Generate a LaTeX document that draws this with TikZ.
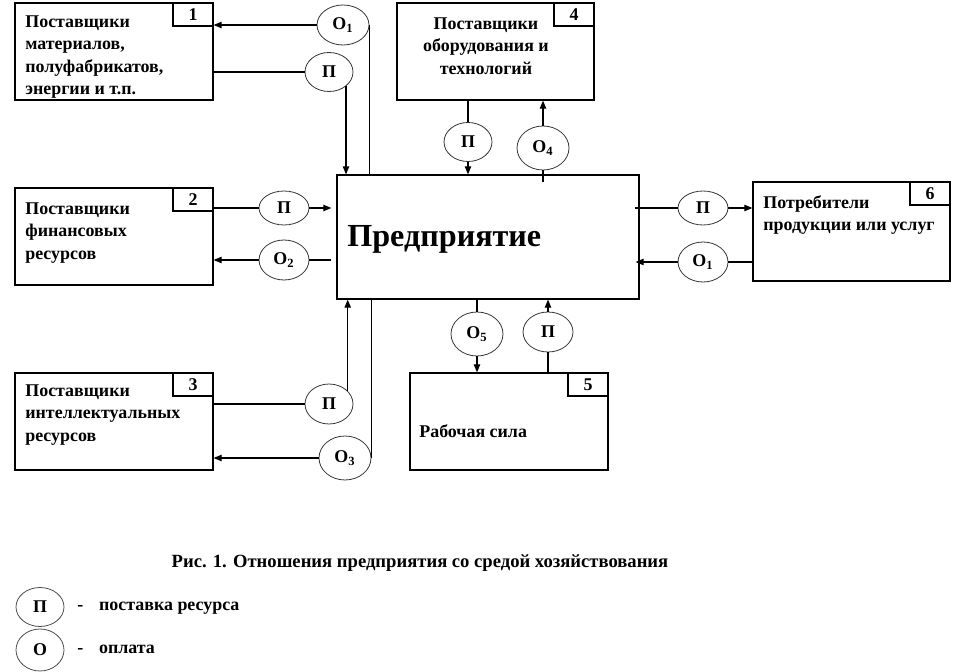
\documentclass[tikz,border=0pt]{standalone}
\usepackage{fontspec}
\setmainfont{LiberationSerif}[Extension=.ttf, UprightFont=*-Regular, BoldFont=*-Bold]
\usetikzlibrary{arrows.meta,calc,shapes.geometric}

\tikzset{
  supplier/.style={draw, line width=0.75pt, minimum width=3.96cm, minimum height=1.94cm, inner sep=0pt},
  numbox/.style={draw, line width=0.75pt, minimum width=0.8cm, minimum height=0.46cm, inner sep=0pt,
    anchor=north east, font=\bfseries\fontsize{10.2pt}{12pt}\selectfont},
  boxtext/.style={anchor=north west, inner sep=0pt, align=left,
    font=\bfseries\fontsize{10.2pt}{12.8pt}\selectfont},
  flow/.style={ellipse, draw=black!80, line width=0.45pt, inner sep=0pt,
    minimum width=0.96cm, minimum height=0.78cm, font=\bfseries\fontsize{10.2pt}{12pt}\selectfont},
  link/.style={line width=0.6pt},
  feed/.style={line width=0.6pt, -{Triangle[length=4.5pt,width=3.6pt]}}
}

\begin{document}
\begin{tikzpicture}[x=0.02cm, y=-0.02cm]
    \useasboundingbox (0,0) rectangle (953,672);

    % enterprise
    \node[draw, line width=0.75pt, minimum width=6.04cm, minimum height=2.48cm] (firm) at (488,237) {};
    \node[anchor=base west, inner sep=0pt, font=\bfseries\fontsize{18.3pt}{22pt}\selectfont] (firmtext) at (347,247) {Предприятие};

    % suppliers and consumers
    \node[supplier] (sup1) at (114,51.5) {};
    \node[numbox] (num1) at (sup1.north east) {1};
    \node[boxtext] (txt1) at (25,15) {Поставщики\\материалов,\\полуфабрикатов,\\энергии и т.п.};

    \node[supplier] (sup2) at (114,236.5) {};
    \node[numbox] (num2) at (sup2.north east) {2};
    \node[boxtext] (txt2) at (25,202) {Поставщики\\финансовых\\ресурсов};

    \node[supplier] (sup3) at (114,421.5) {};
    \node[numbox] (num3) at (sup3.north east) {3};
    \node[boxtext] (txt3) at (25,384) {Поставщики\\интеллектуальных\\ресурсов};

    \node[supplier, minimum width=3.94cm] (sup4) at (495.5,51.5) {};
    \node[numbox] (num4) at (sup4.north east) {4};
    \node[boxtext, anchor=north, align=center] (txt4) at (486,17) {Поставщики\\оборудования и\\технологий};

    \node[supplier] (labour) at (509,421.5) {};
    \node[numbox] (num5) at (labour.north east) {5};
    \node[boxtext] (txt5) at (419,424) {Рабочая сила};

    \node[supplier, minimum width=3.94cm, minimum height=1.98cm] (buyers) at (851.5,231.5) {};
    \node[numbox] (num6) at (buyers.north east) {6};
    \node[boxtext] (txt6) at (763,195) {Потребители\\продукции или услуг};

    % flows
    \node[flow, minimum width=1.04cm, minimum height=0.8cm] (pay1) at (343,25) {О\textsubscript{1}};
    \node[flow] (res1) at (329,72) {П};
    \node[flow, minimum width=1cm, minimum height=0.68cm] (res2) at (284,208) {П};
    \node[flow, minimum width=1cm, minimum height=0.8cm] (pay2) at (284,260) {О\textsubscript{2}};
    \node[flow, minimum height=0.8cm] (res3) at (329,404) {П};
    \node[flow, minimum width=1.04cm, minimum height=0.88cm] (pay3) at (345,458) {О\textsubscript{3}};
    \node[flow] (res4) at (468,142) {П};
    \node[flow, minimum width=1.04cm, minimum height=0.88cm] (pay4) at (543,148) {О\textsubscript{4}};
    \node[flow, minimum width=1.04cm, minimum height=0.88cm] (pay5) at (477,334) {О\textsubscript{5}};
    \node[flow, minimum width=1cm, minimum height=0.8cm] (res5) at (548,332) {П};
    \node[flow, minimum width=1cm, minimum height=0.68cm] (res6) at (703,208) {П};
    \node[flow, minimum width=1cm, minimum height=0.8cm] (pay6) at (703,262) {О\textsubscript{1}};

    % connectors
    \draw[feed] (pay1.west) -- (pay1.west -| sup1.east);
    \draw[link] (pay1.east) -- (pay1.east |- firm.north);
    \draw[link] (res1.west -| sup1.east) -- (res1.west);
    \draw[feed] (res1.-40) -- (res1.-40 |- firm.north);

    \draw[link] (res2.west -| sup2.east) -- (res2.west);
    \draw[feed] (res2.east) -- ($(res2.east -| firm.west)+(-5,0)$);
    \draw[link] ($(pay2.east -| firm.west)+(-5,0)$) -- (pay2.east);
    \draw[feed] (pay2.west) -- (pay2.west -| sup2.east);

    \draw[link] (res3.west -| sup3.east) -- (res3.west);
    \draw[feed] (res3.35) -- (res3.35 |- firm.south);
    \draw[feed] (pay3.west) -- (pay3.west -| sup3.east);
    \draw[link] (pay3.east) -- (pay3.east |- firm.south);

    \draw[link] (res4.north |- sup4.south) -- (res4.north);
    \draw[feed] (res4.south) -- (res4.south |- firm.north);
    \draw[feed] (pay4.north) -- (pay4.north |- sup4.south);
    \draw[link] (pay4.south) -- ($(pay4.south |- firm.north)+(0,8)$);

    \draw[link] (pay5.north |- firm.south) -- (pay5.north);
    \draw[feed] (pay5.south) -- (pay5.south |- labour.north);
    \draw[link] (res5.south |- labour.north) -- (res5.south);
    \draw[feed] (res5.north) -- (res5.north |- firm.south);

    \draw[link] ($(res6.west -| firm.east)+(-5,0)$) -- (res6.west);
    \draw[feed] (res6.east) -- (res6.east -| buyers.west);
    \draw[link] (pay6.east -| buyers.west) -- (pay6.east);
    \draw[feed] (pay6.west) -- ($(pay6.west -| firm.east)+(-4,0)$);

    % caption and legend
    \node[anchor=base, inner sep=0pt, font=\bfseries\fontsize{10.6pt}{12pt}\selectfont] (caption) at (420,567)
        {Рис. 1. Отношения предприятия со средой хозяйствования};
    \node[flow, draw=black!70] (keyres) at (40,607) {П};
    \node[flow, draw=black!70, minimum height=0.84cm] (keypay) at (40,650) {О};
    \node[anchor=base west, inner sep=0pt, font=\bfseries\fontsize{10.2pt}{12pt}\selectfont] (keyrestext) at (77,610) {-\hspace{9pt}поставка ресурса};
    \node[anchor=base west, inner sep=0pt, font=\bfseries\fontsize{10.2pt}{12pt}\selectfont] (keypaytext) at (77,653) {-\hspace{9pt}оплата};
\end{tikzpicture}
\end{document}
